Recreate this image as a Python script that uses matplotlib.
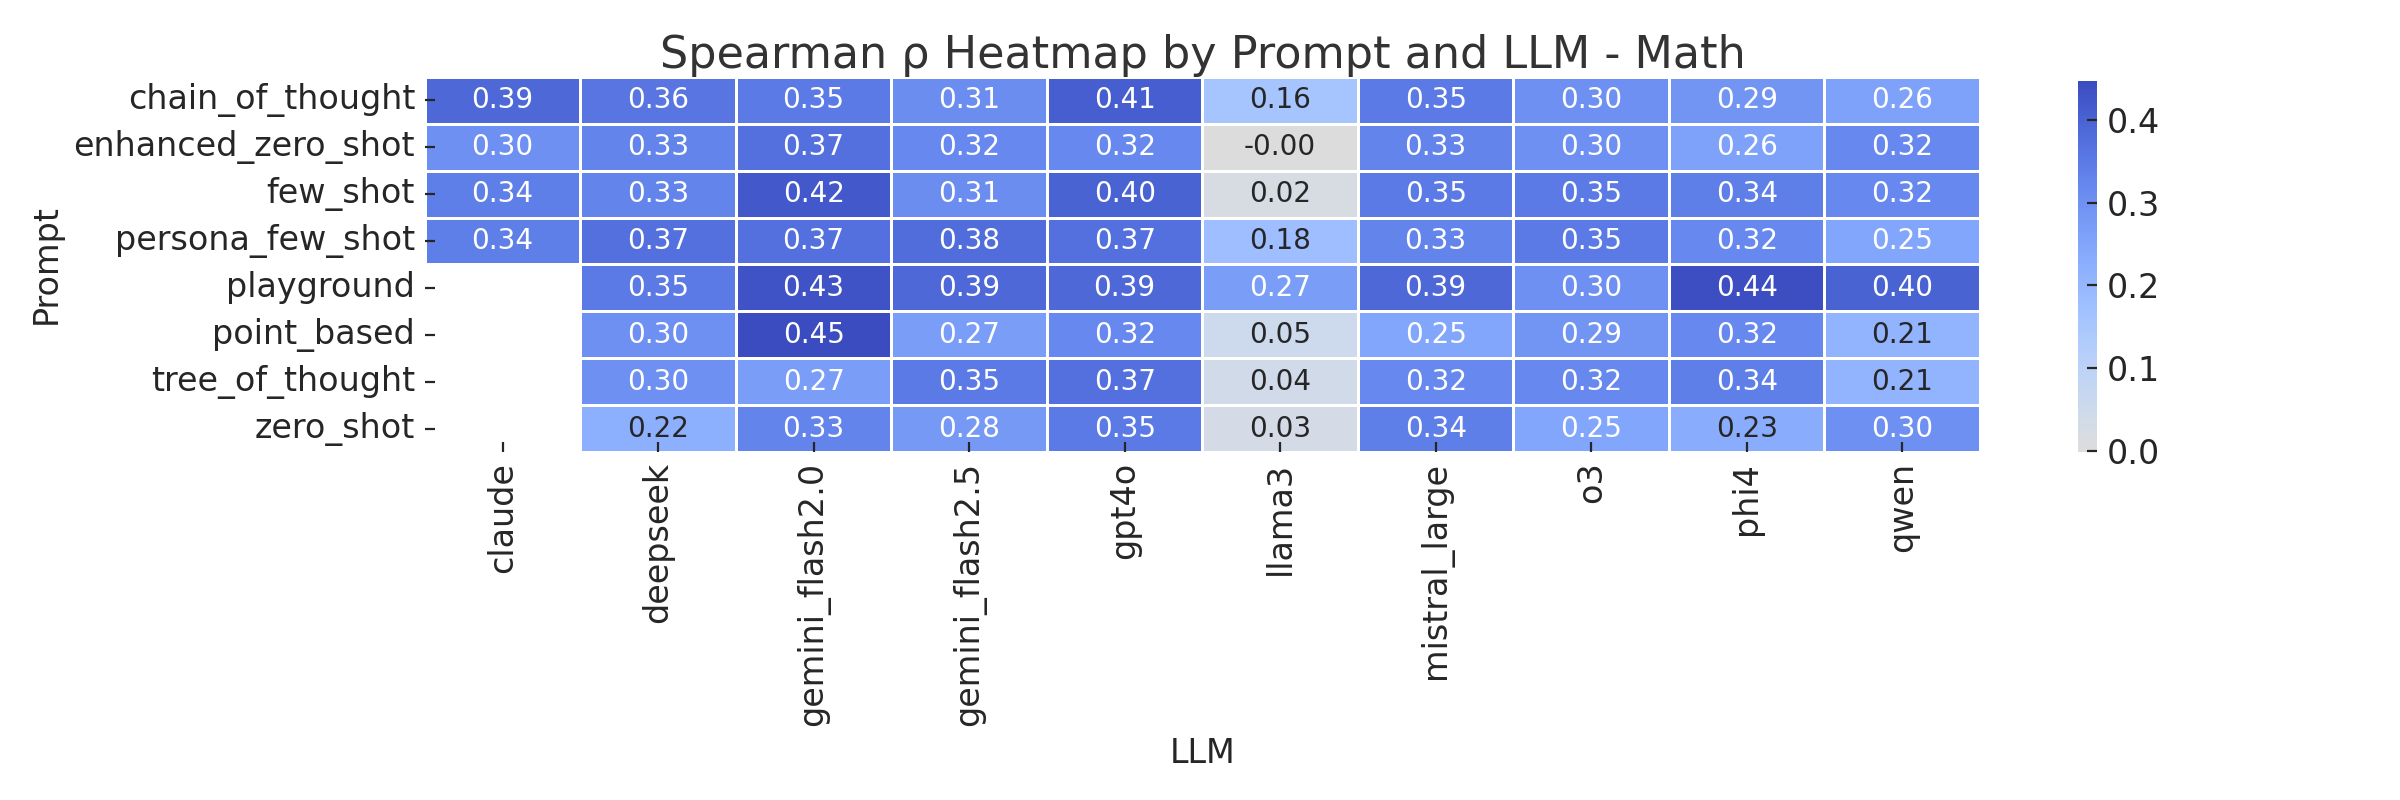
import numpy as np
import pandas as pd
import matplotlib
matplotlib.use("Agg")
import matplotlib.pyplot as plt
import seaborn as sns

prompts = ["chain_of_thought", "enhanced_zero_shot", "few_shot", "persona_few_shot",
           "playground", "point_based", "tree_of_thought", "zero_shot"]
llms = ["claude", "deepseek", "gemini_flash2.0", "gemini_flash2.5", "gpt4o",
        "llama3", "mistral_large", "o3", "phi4", "qwen"]

nan = np.nan
chain_of_thought   = [0.39, 0.36, 0.35, 0.31, 0.41, 0.16, 0.35, 0.30, 0.29, 0.26]
enhanced_zero_shot = [0.30, 0.33, 0.37, 0.32, 0.32, -0.001, 0.33, 0.30, 0.26, 0.32]
few_shot           = [0.34, 0.33, 0.42, 0.31, 0.40, 0.02, 0.35, 0.35, 0.34, 0.32]
persona_few_shot   = [0.34, 0.37, 0.37, 0.38, 0.37, 0.18, 0.33, 0.35, 0.32, 0.25]
playground         = [nan, 0.35, 0.43, 0.39, 0.39, 0.27, 0.39, 0.30, 0.44, 0.40]
point_based        = [nan, 0.30, 0.447, 0.27, 0.32, 0.05, 0.25, 0.29, 0.32, 0.21]
tree_of_thought    = [nan, 0.30, 0.27, 0.35, 0.37, 0.04, 0.32, 0.32, 0.34, 0.21]
zero_shot          = [nan, 0.22, 0.33, 0.28, 0.35, 0.03, 0.34, 0.25, 0.23, 0.30]

rows = [chain_of_thought, enhanced_zero_shot, few_shot, persona_few_shot,
        playground, point_based, tree_of_thought, zero_shot]
df = pd.DataFrame(rows, index=prompts, columns=llms)

sns.set_theme(style="white")
plt.rcParams["font.family"] = ["DejaVu Sans"]
plt.rcParams["xtick.bottom"] = True
plt.rcParams["ytick.left"] = True

fig = plt.figure(figsize=(12, 4), dpi=200)
ax = fig.add_axes([0.177, 0.435, 0.648, 0.469])
cax = fig.add_axes([0.866, 0.435, 0.0079, 0.464])

sns.heatmap(df, ax=ax, cbar_ax=cax, cmap="coolwarm_r", center=0,
            annot=True, fmt=".2f", linewidths=1, linecolor="white",
            annot_kws={"fontsize": 10})

ax.set_title("Spearman ρ Heatmap by Prompt and LLM - Math", fontsize=16,
             color="#333333", pad=2)
ax.set_xlabel("LLM", fontsize=12, labelpad=4)
ax.set_ylabel("Prompt", fontsize=12, labelpad=4)
ax.tick_params(axis="both", labelsize=12, length=3.5, width=0.8, pad=3.5,
               direction="in")
ax.set_axisbelow(False)
plt.setp(ax.get_xticklabels(), rotation=90)
plt.setp(ax.get_yticklabels(), rotation=0)
cax.tick_params(labelsize=12, length=3.5, width=0.8, pad=3.5, direction="in")
cax.set_axisbelow(False)
cax.set_yticks([0.0, 0.1, 0.2, 0.3, 0.4])

fig.savefig("out.png", dpi=200)
